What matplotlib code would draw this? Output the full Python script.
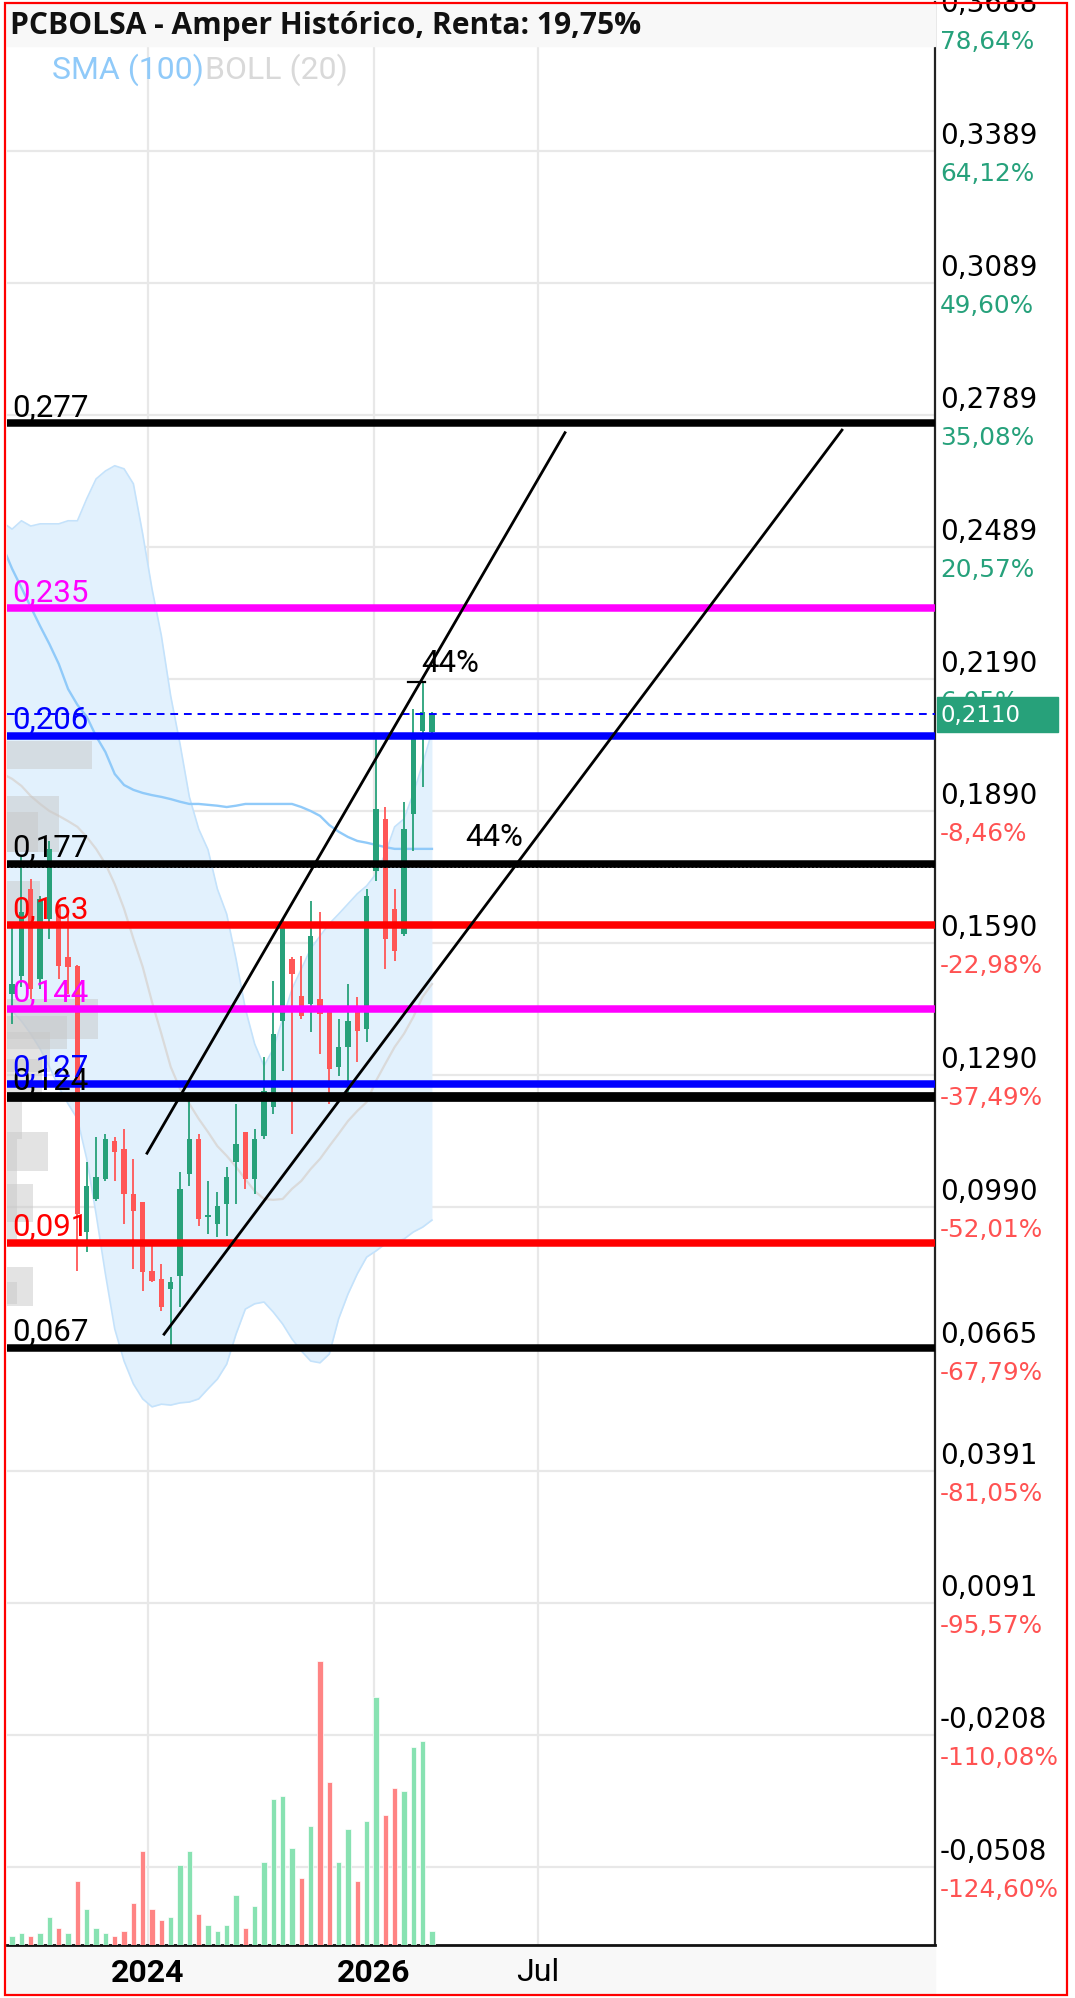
import matplotlib
matplotlib.use("Agg")
import matplotlib.pyplot as plt
import matplotlib.transforms as mtransforms
from matplotlib.patches import Rectangle
import numpy as np

# ---------------- data ----------------
title = "PCBOLSA - Amper Histórico, Renta: 19,75%"

opens = [0.1475, 0.1515, 0.1713, 0.1509, 0.1645, 0.1672, 0.1559, 0.1538, 0.0934, 0.1009,
         0.1054, 0.1141, 0.1123, 0.1020, 0.1002, 0.0846, 0.0827, 0.0805, 0.0834, 0.1066,
         0.1145, 0.0968, 0.0952, 0.0998, 0.1093, 0.1161, 0.1054, 0.1152, 0.1218, 0.1413,
         0.1554, 0.1470, 0.1452, 0.1463, 0.1434, 0.1309, 0.1354, 0.1434, 0.1395, 0.1754,
         0.1872, 0.1668, 0.1611, 0.1883, 0.2072, 0.2070]
highs = [0.1627, 0.1786, 0.1736, 0.1697, 0.1822, 0.1679, 0.1668, 0.1540, 0.1093, 0.1150,
         0.1157, 0.1150, 0.1168, 0.1100, 0.1002, 0.0902, 0.0861, 0.0832, 0.1070, 0.1232,
         0.1157, 0.1050, 0.1025, 0.1082, 0.1225, 0.1161, 0.1168, 0.1332, 0.1504, 0.1645,
         0.1559, 0.1561, 0.1686, 0.1661, 0.1434, 0.1418, 0.1497, 0.1468, 0.1713, 0.2054,
         0.1899, 0.1713, 0.1911, 0.2122, 0.2185, 0.2115]
lows = [0.1406, 0.1491, 0.1463, 0.1486, 0.1600, 0.1509, 0.1475, 0.0846, 0.0889, 0.1004,
        0.1050, 0.1050, 0.0952, 0.0850, 0.0800, 0.0821, 0.0755, 0.0664, 0.0764, 0.1039,
        0.0948, 0.0930, 0.0923, 0.0925, 0.0998, 0.1032, 0.1020, 0.1145, 0.1202, 0.1300,
        0.1157, 0.1418, 0.1388, 0.1338, 0.1225, 0.1288, 0.1252, 0.1320, 0.1366, 0.1731,
        0.1531, 0.1550, 0.1606, 0.1799, 0.1945, 0.2065]
closes = [0.1497, 0.1661, 0.1486, 0.1690, 0.1804, 0.1538, 0.1536, 0.0975, 0.1039, 0.1059,
          0.1145, 0.1116, 0.1020, 0.0982, 0.0843, 0.0823, 0.0764, 0.0821, 0.1032, 0.1145,
          0.0964, 0.0973, 0.0993, 0.1059, 0.1134, 0.1054, 0.1145, 0.1254, 0.1384, 0.1627,
          0.1520, 0.1425, 0.1606, 0.1429, 0.1304, 0.1354, 0.1413, 0.1391, 0.1697, 0.1895,
          0.1600, 0.1572, 0.1849, 0.2054, 0.2115, 0.2110]
volumes = [27, 35, 27, 35, 83, 50, 35, 192, 109, 50, 35, 27, 43, 125, 282, 109, 75, 83, 240, 282,
           92, 59, 42, 59, 149, 50, 116, 249, 438, 447, 290, 200, 356, 851, 488, 249, 348, 192,
           373, 743, 389, 472, 463, 595, 612, 42]
volume_up = [1, 1, 0, 1, 1, 0, 1, 0, 1, 1, 1, 0, 0, 0, 0, 0, 0, 1, 1, 1, 0, 1, 1, 1, 1, 0, 1,
             1, 1, 1, 1, 0, 1, 0, 0, 1, 1, 0, 1, 1, 0, 0, 1, 1, 1, 1]

indicator_start = -1   # indicators start one candle before the first visible candle
sma100 = [0.2490, 0.2440, 0.2397, 0.2353, 0.2310, 0.2269, 0.2224, 0.2167, 0.2131, 0.2104,
          0.2060, 0.2024, 0.1974, 0.1949, 0.1938, 0.1931, 0.1926, 0.1922, 0.1917, 0.1911,
          0.1906, 0.1906, 0.1904, 0.1902, 0.1899, 0.1902, 0.1906, 0.1906, 0.1906, 0.1906,
          0.1906, 0.1906, 0.1899, 0.1890, 0.1879, 0.1858, 0.1843, 0.1831, 0.1822, 0.1818,
          0.1813, 0.1808, 0.1804, 0.1804, 0.1804, 0.1804, 0.1804]
boll_upper = [0.2545, 0.2530, 0.2549, 0.2537, 0.2542, 0.2542, 0.2542, 0.2549, 0.2549, 0.2599,
              0.2644, 0.2662, 0.2674, 0.2667, 0.2633, 0.2519, 0.2394, 0.2288, 0.2151, 0.2042,
              0.1922, 0.1849, 0.1802, 0.1713, 0.1656, 0.1554, 0.1441, 0.1361, 0.1311, 0.1350,
              0.1418, 0.1486, 0.1531, 0.1577, 0.1606, 0.1634, 0.1656, 0.1679, 0.1702, 0.1720,
              0.1747, 0.1793, 0.1854, 0.1872, 0.1929, 0.1997, 0.2070]
boll_middle = [0.1974, 0.1963, 0.1947, 0.1924, 0.1906, 0.1890, 0.1879, 0.1867, 0.1854, 0.1831,
               0.1804, 0.1770, 0.1724, 0.1668, 0.1600, 0.1536, 0.1456, 0.1384, 0.1309, 0.1259,
               0.1225, 0.1191, 0.1161, 0.1129, 0.1107, 0.1082, 0.1054, 0.1027, 0.1009, 0.1007,
               0.1009, 0.1032, 0.1050, 0.1077, 0.1100, 0.1129, 0.1157, 0.1186, 0.1209, 0.1229,
               0.1277, 0.1316, 0.1354, 0.1384, 0.1422, 0.1468, 0.1497]
boll_lower = [0.1452, 0.1436, 0.1413, 0.1384, 0.1350, 0.1309, 0.1263, 0.1225, 0.1191, 0.1100,
              0.0975, 0.0839, 0.0714, 0.0641, 0.0589, 0.0555, 0.0537, 0.0543, 0.0541, 0.0546,
              0.0548, 0.0555, 0.0578, 0.0600, 0.0634, 0.0702, 0.0759, 0.0771, 0.0775, 0.0752,
              0.0725, 0.0691, 0.0664, 0.0641, 0.0637, 0.0657, 0.0737, 0.0793, 0.0839, 0.0877,
              0.0891, 0.0907, 0.0911, 0.0918, 0.0934, 0.0945, 0.0961]

# volume-by-price profile (price band and relative volume)
profile_low = [0.1986, 0.1797, 0.1797, 0.1638, 0.1372, 0.1350, 0.1297, 0.1229, 0.1145, 0.1073,
               0.0918, 0.0957, 0.0766, 0.0771]
profile_high = [0.2049, 0.1924, 0.1888, 0.1731, 0.1463, 0.1425, 0.1388, 0.1327, 0.1229, 0.1161,
                0.1145, 0.1043, 0.0855, 0.0821]
profile_volume = [9.1, 5.6, 3.3, 3.5, 9.75, 6.4, 4.6, 3.75, 1.6, 4.4, 1.07, 2.8, 2.8, 1.07]

levels = [0.277, 0.235, 0.206, 0.177, 0.163, 0.144, 0.124, 0.127, 0.091, 0.067]
level_labels = ["0,277", "0,235", "0,206", "0,177", "0,163", "0,144", "0,124", "0,127",
                "0,091", "0,067"]
level_colors = ["#000000", "#ff00ff", "#0000ff", "#000000", "#ff0000", "#ff00ff", "#000000",
                "#0000ff", "#ff0000", "#000000"]
level_widths = [5.4, 5.4, 5.4, 5.4, 5.4, 5.4, 7.0, 5.4, 5.4, 5.4]

current_price = 0.2110
current_label = "0,2110"
dotted_level = 0.1762

channel_a_x = [14.46, 59.26]
channel_a_y = [0.1113, 0.2749]
channel_b_x = [16.29, 88.95]
channel_b_y = [0.0702, 0.2755]
measure_x = [42.43, 44.25]
measure_y = [0.2183, 0.2183]
note_text = ["44%", "44%"]
note_x = [43.83, 48.54]
note_y = [0.2228, 0.1831]

price_ticks = [0.3688, 0.3389, 0.3089, 0.2789, 0.2489, 0.2190, 0.1890, 0.1590, 0.1290,
               0.0990, 0.0665, 0.0391, 0.0091, -0.0208, -0.0508]
price_tick_labels = ["0,3688", "0,3389", "0,3089", "0,2789", "0,2489", "0,2190", "0,1890",
                     "0,1590", "0,1290", "0,0990", "0,0665", "0,0391", "0,0091", "-0,0208",
                     "-0,0508"]
pct_tick_labels = ["78,64%", "64,12%", "49,60%", "35,08%", "20,57%", "6,05%", "-8,46%",
                   "-22,98%", "-37,49%", "-52,01%", "-67,79%", "-81,05%", "-95,57%",
                   "-110,08%", "-124,60%"]
time_tick_pos = [14.57, 38.78, 56.37]
time_tick_labels = ["2024", "2026", "Jul"]
time_tick_bold = [True, True, False]

# ---------------- styling / layout ----------------
GREEN = "#27a17a"
RED = "#ff5656"
VOL_GREEN = "#88e2b2"
VOL_RED = "#ff8484"
PCT_GREEN = "#26a17b"
PCT_RED = "#ff5252"
ROBOTO = ["Roboto", "DejaVu Sans"]
DEJAVU = ["DejaVu Sans"]

W, H = 1075, 1999
fig = plt.figure(figsize=(W / 100, H / 100), dpi=100)
fig.patch.set_facecolor("white")


def fx(px):
    return px / W


def fy(py):
    return 1 - py / H


AX_L, AX_R, AX_T, AX_B = 7, 935, 3, 1946
ax = fig.add_axes([fx(AX_L), fy(AX_B), (AX_R - AX_L) / W, (AX_B - AX_T) / H])
XMIN, XMAX = -0.547, 98.92
ax.set_xlim(XMIN, XMAX)
ax.set_ylim(-0.0685, 0.3727)
ax.set_facecolor("white")

# grid
ax.set_yticks(price_ticks)
ax.set_xticks(time_tick_pos)
ax.grid(True, color="#e8e8e8", lw=1.6)
ax.set_axisbelow(True)
ax.tick_params(length=0, labelleft=False, labelbottom=False, labelright=False)
for s in ["left", "top"]:
    ax.spines[s].set_visible(False)
ax.spines["right"].set_color("#222222")
ax.spines["right"].set_linewidth(1.6)
ax.spines["bottom"].set_color("#111111")
ax.spines["bottom"].set_linewidth(2.0)

# bollinger + sma
xi = np.arange(indicator_start, indicator_start + len(sma100))
ax.fill_between(xi, boll_lower, boll_upper, color="#e2f1fd", lw=0, zorder=1)
ax.plot(xi, boll_upper, color="#c4e2fb", lw=1.2, zorder=1.2)
ax.plot(xi, boll_lower, color="#c4e2fb", lw=1.2, zorder=1.2)
ax.plot(xi, boll_middle, color="#dadada", lw=1.6, zorder=1.3)
ax.plot(xi, sma100, color="#90caf9", lw=1.7, zorder=2)

# volume profile
plo = np.array(profile_low)
phi = np.array(profile_high)
ax.barh((plo + phi) / 2, profile_volume, height=phi - plo, left=XMIN, color="#c8c8c8",
        alpha=0.5, lw=0, zorder=2.5)

# candles
o = np.array(opens); h = np.array(highs); l = np.array(lows); c = np.array(closes)
xc = np.arange(len(o))
cols = [GREEN if cc >= oo else RED for oo, cc in zip(o, c)]
ax.vlines(xc, l, h, colors=cols, lw=1.3, zorder=3)
ax.bar(xc, np.maximum(np.abs(c - o), 0.0005), bottom=np.minimum(o, c), width=0.58,
       color=cols, lw=0, zorder=3.1)

# horizontal levels
blend = mtransforms.blended_transform_factory(ax.transAxes, ax.transData)
lab_tr = mtransforms.offset_copy(blend, fig=fig, x=0, y=8.7, units="dots")
for lv, col, lw in zip(levels, level_colors, level_widths):
    ax.axhline(lv, color=col, lw=lw, zorder=4)
for lv, lab, col in zip(levels, level_labels, level_colors):
    ax.text(5 / (AX_R - AX_L), lv, lab, transform=lab_tr, color=col, fontsize=22.5,
            family=ROBOTO, ha="left", va="baseline", zorder=7)
ax.axhline(current_price, color="#0000ff", lw=1.4, ls=(0, (4, 3)), zorder=4)
ax.axhline(dotted_level, color="#000000", lw=1.4, ls=(0, (1, 1)), zorder=4)

# channel lines and notes
ax.plot(channel_a_x, channel_a_y, color="black", lw=2.0, zorder=5)
ax.plot(channel_b_x, channel_b_y, color="black", lw=2.0, zorder=5)
ax.plot(measure_x, measure_y, color="black", lw=1.6, zorder=5)
for t, xx, yy in zip(note_text, note_x, note_y):
    ax.text(xx, yy, t, color="black", fontsize=22.5, family=ROBOTO, ha="left", va="center",
            zorder=7)

# volume bars
ax2 = ax.twinx()
ax2.set_ylim(0, 5829)
ax2.axis("off")
vcols = [VOL_GREEN if u else VOL_RED for u in volume_up]
ax2.bar(np.arange(len(volumes)), volumes, width=0.57, color=vcols, edgecolor="white",
        lw=0.5)
ax2.set_xlim(XMIN, XMAX)

# right price scale labels
xr = (940 - AX_L) / (AX_R - AX_L)
tr_up = mtransforms.offset_copy(blend, fig=fig, x=0, y=16, units="dots")
tr_dn = mtransforms.offset_copy(blend, fig=fig, x=0, y=-22, units="dots")
for t, s, p in zip(price_ticks, price_tick_labels, pct_tick_labels):
    ax.text(xr, t, s, transform=tr_up, color="black", fontsize=20, family=DEJAVU,
            ha="left", va="center", clip_on=False)
    ax.text(xr, t, p, transform=tr_dn, color=PCT_RED if p.startswith("-") else PCT_GREEN,
            fontsize=17.8, family=DEJAVU, ha="left", va="center", clip_on=False)

# time labels
tblend = mtransforms.blended_transform_factory(ax.transData, ax.transAxes)
tr_time = mtransforms.offset_copy(tblend, fig=fig, x=0, y=-27, units="dots")
for pos, lab, bold in zip(time_tick_pos, time_tick_labels, time_tick_bold):
    ax.text(pos, 0, lab, transform=tr_time, ha="center", va="center", fontsize=23,
            family=ROBOTO, fontweight="bold" if bold else "normal", color="black",
            clip_on=False)

# current price tag
fig.canvas.draw()
ypix = ax.transData.transform((0, current_price))[1]
ident = mtransforms.IdentityTransform()
fig.add_artist(Rectangle((937, ypix - 17.5), 121, 35, transform=ident, color=GREEN,
                         zorder=8))
fig.text(941, ypix, current_label, transform=ident, color="white", fontsize=16.5,
         family=DEJAVU, ha="left", va="center", zorder=9)

# title bar, legend, bottom band, border
fig.add_artist(Rectangle((fx(7), fy(47)), fx(935) - fx(7), 42 / H, transform=fig.transFigure,
                         color="#f8f8f8", zorder=8))
fig.text(fx(10), fy(26), title, fontsize=21.6, fontweight="bold",
         family=["Open Sans", "DejaVu Sans"], color="#111111", ha="left", va="center",
         zorder=9)
fig.text(fx(52), fy(70), "SMA (100)", fontsize=23, family=ROBOTO, color="#90caf9",
         ha="left", va="center", zorder=9)
fig.text(fx(205), fy(70), "BOLL (20)", fontsize=23, family=ROBOTO, color="#d9d9d9",
         ha="left", va="center", zorder=9)
fig.add_artist(Rectangle((fx(7), fy(1995)), fx(935) - fx(7), (1995 - 1948) / H,
                         transform=fig.transFigure, color="#f8f8f8", zorder=-1))
fig.add_artist(Rectangle((fx(5), fy(1996)), (1067 - 5) / W, (1996 - 4) / H,
                         transform=fig.transFigure, fill=False, edgecolor="red", lw=1.6,
                         zorder=10))

fig.savefig("out.png", dpi=100, facecolor="white")
